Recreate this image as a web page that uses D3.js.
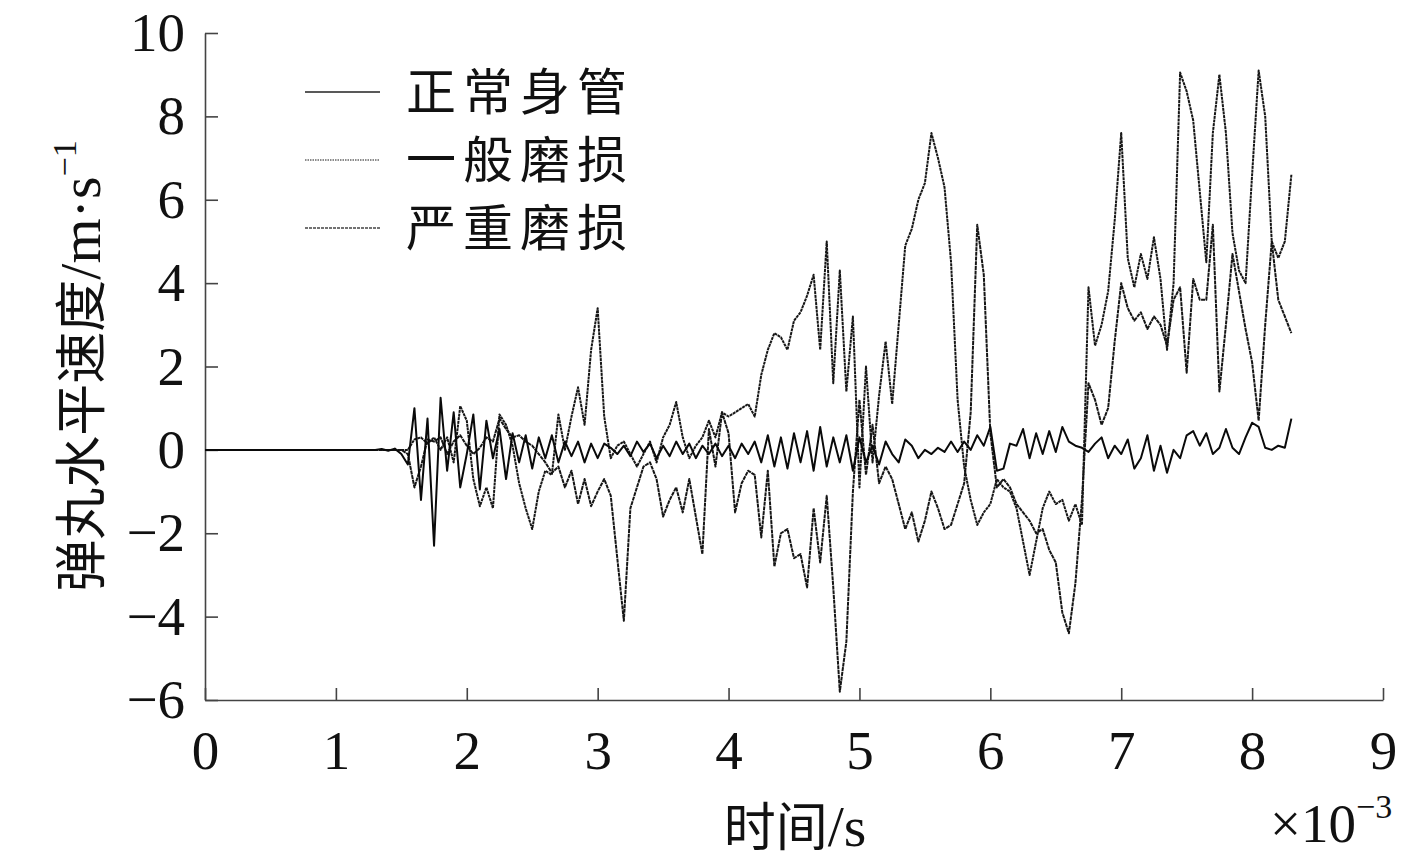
<!DOCTYPE html>
<html>
<head>
<meta charset="utf-8">
<script src="https://cdn.jsdelivr.net/npm/d3@7"></script>
<style>
  body { margin: 0; background: #fff; }
  text { fill: #111; }
  .num { font-family: "Liberation Serif", "Times New Roman", serif; }
  .cjk { font-family: "Noto Sans CJK SC", sans-serif; }
  .axis path, .axis line { stroke: #444; stroke-width: 1.6; }
</style>
</head>
<body>
<svg id="chart" width="1417" height="862"></svg>
<script>
//! CONSTS
const WIDTH = 1417;
const HEIGHT = 862;
const X0 = 205, X1 = 1383, Y_TOP = 33, Y_BOT = 700;

//! DATA  (time in 10^-3 s, speed in m/s)
// sampling grid: t = 0, then 1.30 ... 8.30 every 0.05
const timeMs = [0].concat(d3.range(130, 831, 5).map(d => d / 100));

const xTicks = [0, 1, 2, 3, 4, 5, 6, 7, 8, 9];
const yTicks = [-6, -4, -2, 0, 2, 4, 6, 8, 10];
const seriesNames = ['正常身管', '一般磨损', '严重磨损'];

const normal = [0,
  0, 0.02, -0.02, 0.03, -0.1, -0.35, 1.0, -1.2, 0.75, -2.3,
  1.25, -0.5, 0.9, -0.9, -0.1, 0.85, -0.95, 0.7, -0.2, 0.5,
  -0.7, 0.4, -0.3, 0.35, -0.45, 0.3, -0.2, 0.35, -0.3, 0.2,
  -0.15, 0.2, -0.3, 0.15, -0.2, 0.15, 0.05, -0.1, 0.1, -0.15,
  0.2, -0.05, 0.15, -0.2, 0.1, -0.15, 0.2, -0.1, 0.15, -0.2,
  0.1, -0.1, 0.15, -0.15, 0.1, -0.2, 0.15, -0.1, 0.2, -0.3,
  0.35, -0.4, 0.3, -0.45, 0.4, -0.3, 0.45, -0.5, 0.55, -0.4,
  0.3, -0.3, 0.35, -0.5, 0.3, -0.3, 0.1, -0.35, 0.2, -0.1,
  -0.3, 0.25, 0.1, -0.2, 0.0, -0.1, 0.05, -0.05, 0.2, -0.05,
  0.2, 0.0, 0.35, 0.1, 0.55, -0.5, -0.45, 0.15, 0.1, 0.5,
  -0.2, 0.4, -0.1, 0.45, -0.05, 0.55, 0.2, 0.1, 0.05, -0.05,
  0.15, 0.3, -0.2, 0.1, -0.1, 0.25, -0.45, -0.2, 0.35, -0.5,
  0.1, -0.55, 0.0, -0.2, 0.35, 0.45, 0.1, 0.4, -0.1, 0.05,
  0.5, 0.05, -0.1, 0.3, 0.65, 0.55, 0.05, 0.0, 0.1, 0.05,
  0.75];

const mildWear = [0,
  0, 0, 0, 0, 0, 0.0, 0.25, 0.3, 0.15, 0.3,
  0.0, 0.3, -0.3, 1.05, 0.7, -0.7, -1.35, -0.9, -1.4, 0.85,
  0.6, 0.1, -0.8, -1.4, -1.9, -1.0, -0.5, -0.6, 0.85, 0.0,
  0.8, 1.5, 0.6, 2.4, 3.4, 0.8, -0.2, 0.1, 0.2, -0.1,
  -0.4, -0.1, 0.2, -0.3, 0.3, 0.6, 1.15, 0.3, -0.2, 0.1,
  0.3, 0.7, 0.3, 0.9, 0.8, 0.9, 1.0, 1.1, 0.8, 1.8,
  2.4, 2.8, 2.7, 2.4, 3.1, 3.3, 3.7, 4.2, 2.4, 5.0,
  1.6, 4.3, 1.4, 3.2, -0.9, 2.0, -0.3, 1.3, 2.6, 1.1,
  3.0, 4.9, 5.3, 6.0, 6.4, 7.6, 7.0, 6.3, 4.5, 1.2,
  -0.4, -1.2, -1.8, -1.5, -1.3, -0.7, -0.9, -1.0, -1.4, -2.2,
  -3.0, -2.2, -1.4, -1.0, -1.3, -1.2, -1.7, -1.3, -1.8, 3.9,
  2.5, 3.0, 3.8, 5.5, 7.6, 4.6, 3.9, 4.7, 4.1, 5.1,
  4.1, 2.4, 4.0, 9.05, 8.6, 7.9, 6.2, 4.5, 7.6, 9.0,
  7.6, 5.2, 4.3, 4.0, 6.6, 9.1, 8.0, 5.0, 4.6, 5.0,
  6.6];

const severeWear = [0,
  0, 0, 0, 0, 0, -0.1, -0.9, -0.4, 0.25, 0.2,
  0.3, -0.1, 0.2, 0.35, 0.1, -0.1, 0.05, 0.3, 0.2, 0.75,
  0.5, 0.3, 0.35, 0.2, 0.1, -0.1, -0.3, -0.55, -0.4, -0.9,
  -0.5, -1.3, -0.7, -1.35, -1.0, -0.7, -1.1, -2.6, -4.1, -1.4,
  -0.9, -0.4, -0.3, -0.7, -1.6, -1.2, -0.9, -1.5, -0.7, -1.6,
  -2.5, 0.5, -0.4, 0.9, 0.4, -1.5, -0.8, -0.5, -0.6, -2.1,
  -0.5, -2.8, -2.0, -1.9, -2.6, -2.5, -3.3, -1.4, -2.7, -1.1,
  -3.3, -5.8, -4.6, -1.0, 1.2, -0.6, 0.6, -0.8, -0.4, -0.7,
  -1.3, -1.9, -1.5, -2.2, -1.7, -1.0, -1.4, -1.9, -1.8, -1.3,
  -0.8, 0.9, 5.4, 4.2, 0.4, -0.9, -0.7, -0.9, -1.3, -1.5,
  -1.7, -2.0, -1.9, -2.4, -2.7, -3.9, -4.4, -3.2, -1.2, 1.6,
  1.2, 0.6, 1.0, 2.6, 4.0, 3.4, 3.1, 3.3, 2.9, 3.2,
  3.0, 2.5, 3.6, 3.9, 1.85, 4.1, 3.6, 3.6, 5.4, 1.4,
  3.0, 4.7, 3.8, 2.9, 2.1, 0.7, 3.0, 5.0, 3.6, 3.2,
  2.8];

//! SVG
const svg = d3.select('#chart')
  .attr('width', WIDTH)
  .attr('height', HEIGHT);

const x = d3.scaleLinear().domain([0, 9]).range([X0, X1]);
const y = d3.scaleLinear().domain([-6, 10]).range([Y_BOT, Y_TOP]);

const fmt = d => d < 0 ? '\u2212' + Math.abs(d) : String(d);

// axes, ticks pointing inward
svg.append('g')
  .attr('class', 'axis num')
  .attr('transform', `translate(${X0},0)`)
  .call(d3.axisLeft(y).tickValues(yTicks).tickFormat(fmt)
    .tickSizeInner(-13).tickSizeOuter(0).tickPadding(20))
  .call(g => g.selectAll('text').attr('font-size', 55).style('font-family', '"Liberation Serif", serif'));

svg.append('g')
  .attr('class', 'axis num')
  .attr('transform', `translate(0,${Y_BOT})`)
  .call(d3.axisBottom(x).tickValues(xTicks).tickFormat(fmt)
    .tickSizeInner(-12).tickSizeOuter(0).tickPadding(30))
  .call(g => g.selectAll('text').attr('font-size', 55).style('font-family', '"Liberation Serif", serif'));

// lines
const styles = [
  { data: mildWear, dash: '3,0.7', width: 2, color: '#161616' },
  { data: severeWear, dash: '4,0.7', width: 2, color: '#161616' },
  { data: normal, dash: null, width: 2, color: '#0a0a0a' }
];

const line = d3.line()
  .x((d, i) => x(timeMs[i]))
  .y(d => y(d));

svg.append('g')
  .selectAll('path')
  .data(styles)
  .enter()
  .append('path')
  .attr('d', s => line(s.data))
  .attr('fill', 'none')
  .attr('stroke', s => s.color)
  .attr('stroke-width', s => s.width)
  .attr('stroke-dasharray', s => s.dash)
  .attr('stroke-linejoin', 'round');

// legend
const legendStyles = [
  { dash: null, color: '#222', width: 1.6 },
  { dash: '1.5,1', color: '#666', width: 1.5 },
  { dash: '3,1', color: '#444', width: 1.5 }
];
const legend = svg.append('g').attr('class', 'legend');
seriesNames.forEach((name, i) => {
  const ly = 92 + i * 68;
  legend.append('line')
    .attr('x1', 305).attr('x2', 380).attr('y1', ly).attr('y2', ly)
    .attr('stroke', legendStyles[i].color)
    .attr('stroke-width', legendStyles[i].width)
    .attr('stroke-dasharray', legendStyles[i].dash);
  legend.append('text')
    .attr('class', 'cjk')
    .attr('x', 406).attr('y', ly)
    .attr('dy', '0.36em')
    .attr('font-size', 50)
    .attr('letter-spacing', 7)
    .text(name);
});

// y label
const yl = svg.append('text')
  .attr('transform', 'translate(100,366) rotate(-90)')
  .attr('text-anchor', 'middle')
  .attr('font-size', 52);
yl.append('tspan').attr('class', 'cjk').text('弹丸水平速度');
yl.append('tspan').attr('class', 'num').attr('font-size', 58).text('/m·s');
yl.append('tspan').attr('class', 'num').attr('font-size', 34).attr('dy', -24).text('\u22121');

// x label
const xl = svg.append('text')
  .attr('x', 795).attr('y', 846)
  .attr('text-anchor', 'middle')
  .attr('font-size', 52);
xl.append('tspan').attr('class', 'cjk').text('时间');
xl.append('tspan').attr('class', 'num').attr('font-size', 58).text('/s');

// scale factor
const sf = svg.append('text')
  .attr('class', 'num')
  .attr('x', 1270).attr('y', 842)
  .attr('font-size', 55);
sf.append('tspan').text('×10');
sf.append('tspan').attr('font-size', 34).attr('dy', -24).text('\u22123');
</script>
</body>
</html>
